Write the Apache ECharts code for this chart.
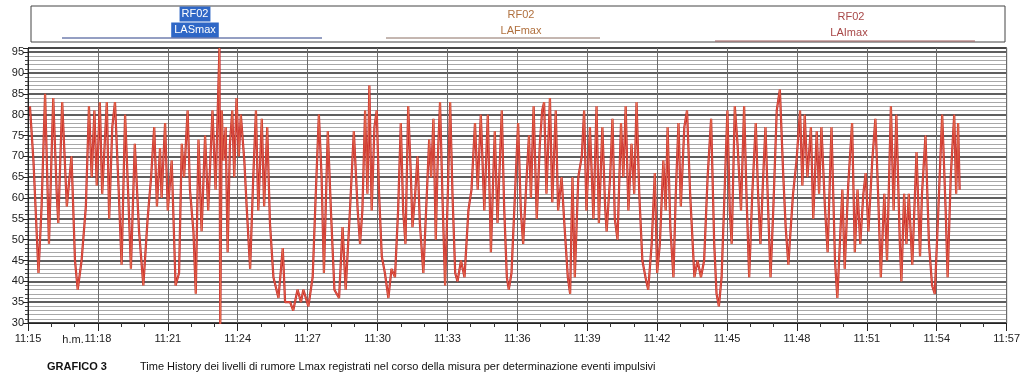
<!DOCTYPE html>
<html>
<head>
<meta charset="utf-8">
<script src="https://cdn.jsdelivr.net/npm/echarts@6/dist/echarts.min.js"></script>
<style>
    html, body { margin: 0; padding: 0; background: #ffffff; }
    #chart { width: 1023px; height: 383px; }
</style>
</head>
<body>
<div id="chart"></div>
<script>
    // tempo in secondi dalle 11:15:00
    const times = [
        5, 14, 27, 35, 44, 54, 65, 74, 78, 88, 100, 112, 121, 128, 138, 149, 157, 164, 171, 177,
        185, 191, 203, 209, 217, 224, 233, 241, 250, 258, 265, 275, 286, 297, 308, 317, 325, 332, 340, 344,
        353, 360, 370, 380, 389, 396, 402, 411, 417, 426, 432, 439, 447, 456, 464, 475, 483, 493, 495, 499,
        503, 509, 514, 520, 526, 531, 537, 543, 548, 557, 563, 572, 580, 587, 593, 602, 608, 616, 623, 632,
        645, 656, 662, 675, 683, 694, 703, 709, 722, 733, 741, 749, 756, 762, 772, 780, 789, 801, 810, 818,
        829, 839, 849, 855, 861, 868, 874, 879, 885, 892, 898, 904, 911, 919, 928, 936, 945, 953, 960, 966,
        972, 979, 986, 990, 997, 1003, 1009, 1018, 1027, 1033, 1038, 1044, 1050, 1055, 1061, 1067, 1074, 1081, 1087, 1093,
        1100, 1106, 1115, 1124, 1134, 1142, 1151, 1158, 1166, 1175, 1184, 1192, 1198, 1202, 1209, 1220, 1226, 1233, 1238, 1245,
        1254, 1262, 1269, 1275, 1284, 1290, 1295, 1302, 1310, 1318, 1324, 1329, 1335, 1344, 1350, 1359, 1365, 1374, 1381, 1390,
        1396, 1402, 1408, 1417, 1426, 1432, 1438, 1447, 1456, 1464, 1470, 1479, 1486, 1490, 1499, 1505, 1511, 1518, 1527, 1533,
        1539, 1546, 1554, 1561, 1567, 1574, 1582, 1590, 1597, 1606, 1614, 1620, 1627, 1636, 1642, 1647, 1654, 1662, 1668, 1675,
        1681, 1690, 1697, 1705, 1716, 1724, 1733, 1741, 1750, 1759, 1767, 1773, 1779, 1786, 1795, 1801, 1807, 1812, 1820, 1827,
        1836, 1844, 1850, 1857, 1865, 1874, 1880, 1886, 1893, 1899, 1906, 1912, 1919, 1928, 1936, 1945, 1951, 1958, 1962, 1970,
        1979, 1988, 1994, 2000, 2007, 2016, 2022, 2031, 2037, 2043, 2052, 2059, 2069, 2078, 2084, 2091, 2097, 2103, 2112, 2122,
        2129, 2136, 2143, 2151, 2157, 2164, 2174, 2182, 2189, 2196, 2205, 2212, 2222, 2229, 2236, 2245, 2249, 2256, 2262, 2268,
        2277, 2288, 2297, 2302, 2311, 2320, 2328, 2335, 2344, 2354, 2363, 2368, 2376, 2385, 2390, 2395, 2399
    ];
    // livelli Lmax in dB(A)
    const levels = [
        82, 69, 42, 58, 85, 49, 84, 61, 54, 83, 58, 70, 45, 38, 45, 58, 82, 65, 81, 63,
        83, 61, 83, 55, 77, 83, 63, 44, 80, 61, 43, 73, 52, 39, 55, 65, 77, 58, 72, 60,
        78, 57, 69, 39, 42, 73, 65, 81, 62, 52, 37, 74, 52, 75, 57, 81, 62, 96, 28, 81,
        69, 77, 47, 73, 81, 65, 84, 70, 80, 69, 58, 43, 65, 81, 57, 79, 58, 77, 54, 41,
        36, 48, 35, 35, 33, 38, 35, 38, 34, 41, 61, 80, 65, 42, 76, 57, 38, 36, 53, 38,
        57, 76, 57, 49, 57, 81, 61, 87, 57, 77, 81, 61, 46, 42, 36, 43, 41, 57, 78, 57,
        49, 82, 65, 53, 61, 70, 54, 42, 61, 74, 65, 79, 50, 69, 83, 61, 39, 61, 83, 61,
        42, 40, 45, 41, 57, 62, 78, 62, 80, 57, 80, 47, 65, 76, 54, 81, 58, 41, 38, 42,
        61, 78, 57, 49, 65, 75, 60, 82, 55, 73, 81, 83, 61, 84, 59, 81, 57, 65, 54, 41,
        37, 65, 41, 65, 70, 81, 57, 77, 55, 82, 54, 77, 58, 52, 65, 79, 55, 50, 78, 65,
        82, 57, 73, 61, 83, 61, 45, 41, 38, 49, 66, 42, 49, 69, 57, 77, 53, 41, 61, 78,
        58, 77, 81, 61, 41, 45, 41, 45, 65, 79, 49, 37, 34, 41, 65, 81, 57, 49, 82, 73,
        57, 82, 61, 41, 61, 78, 61, 49, 65, 77, 57, 41, 57, 81, 86, 65, 53, 44, 50, 61,
        69, 81, 63, 80, 65, 77, 55, 76, 61, 77, 58, 47, 77, 45, 36, 50, 62, 43, 63, 78,
        47, 62, 49, 61, 66, 52, 69, 79, 61, 41, 61, 45, 82, 57, 80, 49, 40, 61, 49, 61,
        44, 71, 46, 61, 75, 49, 39, 37, 57, 80, 57, 41, 65, 80, 61, 78, 62
    ];
    const xLabels = ['11:15', '11:18', '11:21', '11:24', '11:27', '11:30', '11:33', '11:36',
        '11:39', '11:42', '11:45', '11:48', '11:51', '11:54', '11:57'];

    const font = '"Liberation Sans Narrow", "Liberation Sans", Arial, sans-serif';
    const points = times.map((t, i) => [t, levels[i]]);

    let myChart = echarts.init(document.getElementById('chart'));
    let option = {
        backgroundColor: '#ffffff',
        animation: false,
        grid: {
            left: 28,
            right: 16,
            top: 48,
            bottom: 60,
            show: true,
            borderColor: '#444',
            borderWidth: 1
        },
        xAxis: {
            type: 'value',
            min: 0,
            max: 2520,
            interval: 180,
            axisLine: { lineStyle: { color: '#222', width: 1 } },
            axisTick: { length: 8, lineStyle: { color: '#222' } },
            minorTick: { show: true, splitNumber: 3, length: 4, lineStyle: { color: '#333' } },
            splitLine: { show: true, lineStyle: { color: '#6a6a6a', width: 1 } },
            axisLabel: {
                color: '#222',
                fontFamily: font,
                fontSize: 11,
                margin: 10,
                formatter: v => xLabels[Math.round(v / 180)] || ''
            }
        },
        yAxis: {
            type: 'value',
            min: 30,
            max: 96,
            interval: 5,
            axisLine: { show: true, lineStyle: { color: '#222', width: 1 } },
            axisTick: { show: true, length: 5, lineStyle: { color: '#222' } },
            minorTick: { show: true, splitNumber: 5, length: 3, lineStyle: { color: '#444' } },
            splitLine: { show: true, lineStyle: { color: '#2a2a2a', width: 1.5 } },
            minorSplitLine: { show: true, lineStyle: { color: '#a8a8a8', width: 1 } },
            axisLabel: {
                color: '#222',
                fontFamily: font,
                fontSize: 11,
                margin: 4,
                formatter: v => (v % 5 === 0 ? String(v) : '')
            }
        },
        series: [
            {
                name: 'LAImax',
                type: 'line',
                data: points,
                symbol: 'none',
                lineStyle: { color: '#c8282c', width: 2.2 },
                z: 2
            },
            {
                name: 'LAFmax',
                type: 'line',
                data: points,
                symbol: 'none',
                lineStyle: { color: 'rgba(240,140,90,0.75)', width: 0.8 },
                z: 3
            }
        ],
        graphic: [
            // riquadro legenda
            { type: 'rect', shape: { x: 31, y: 6, width: 974, height: 36 },
              style: { fill: 'none', stroke: '#444', lineWidth: 1 } },
            { type: 'text', x: 195, y: 14, style: { text: 'RF02', fill: '#fff', backgroundColor: '#2f67c6',
              font: '11px ' + font, align: 'center', verticalAlign: 'middle', padding: [2, 2] } },
            { type: 'text', x: 195, y: 30, style: { text: 'LASmax', fill: '#fff', backgroundColor: '#2f67c6',
              font: '11px ' + font, align: 'center', verticalAlign: 'middle', padding: [2, 3] } },
            { type: 'line', shape: { x1: 62, y1: 38, x2: 322, y2: 38 }, style: { stroke: '#2a3f86', lineWidth: 1 } },
            { type: 'text', x: 521, y: 15, style: { text: 'RF02', fill: '#b0703e',
              font: '11px ' + font, align: 'center', verticalAlign: 'middle' } },
            { type: 'text', x: 521, y: 31, style: { text: 'LAFmax', fill: '#b0703e',
              font: '11px ' + font, align: 'center', verticalAlign: 'middle' } },
            { type: 'line', shape: { x1: 386, y1: 38, x2: 600, y2: 38 }, style: { stroke: '#8a6e62', lineWidth: 1 } },
            { type: 'text', x: 851, y: 17, style: { text: 'RF02', fill: '#a84848',
              font: '11px ' + font, align: 'center', verticalAlign: 'middle' } },
            { type: 'text', x: 849, y: 33, style: { text: 'LAImax', fill: '#a84848',
              font: '11px ' + font, align: 'center', verticalAlign: 'middle' } },
            { type: 'line', shape: { x1: 715, y1: 41, x2: 975, y2: 41 }, style: { stroke: '#9e5a5a', lineWidth: 1 } },
            // unità asse tempi
            { type: 'text', x: 73, y: 340, style: { text: 'h.m.', fill: '#222',
              font: '11px ' + font, align: 'center', verticalAlign: 'middle' } },
            // didascalia
            { type: 'text', x: 47, y: 367, style: { text: 'GRAFICO 3', fill: '#111',
              font: 'bold 11px ' + font, verticalAlign: 'middle' } },
            { type: 'text', x: 140, y: 367, style: {
              text: 'Time History dei livelli di rumore Lmax registrati nel corso della misura per determinazione eventi impulsivi',
              fill: '#111', font: '11px ' + font, verticalAlign: 'middle' } }
        ]
    };
    myChart.setOption(option);
</script>
</body>
</html>
